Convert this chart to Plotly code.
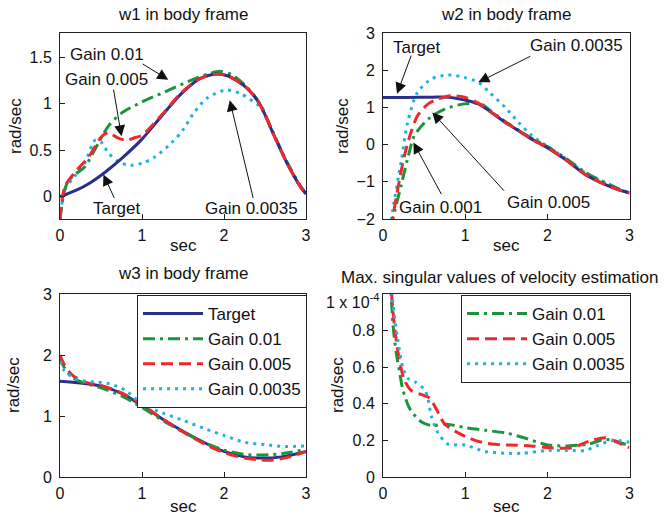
import plotly.graph_objects as go

# ---------------- data ----------------
# w1
t_w1_target = [0, 0.2, 0.35, 0.53, 0.75, 1.0, 1.24, 1.48, 1.7, 1.9, 2.05, 2.28, 2.44, 2.6, 2.77, 2.93, 3.0]
w1_target = [0, 0.07, 0.14, 0.25, 0.41, 0.62, 0.87, 1.11, 1.27, 1.32, 1.30, 1.17, 0.99, 0.68, 0.36, 0.11, 0.03]
t_w1_g01 = [0, 0.05, 0.1, 0.2, 0.3, 0.42, 0.59, 0.75, 1.0, 1.28, 1.56, 1.8, 1.95, 2.1, 2.28, 2.44, 2.6, 2.77, 2.93, 3.0]
w1_g01 = [-0.24, 0.05, 0.17, 0.25, 0.32, 0.5, 0.76, 0.9, 1.02, 1.13, 1.24, 1.32, 1.35, 1.31, 1.18, 1.0, 0.69, 0.37, 0.12, 0.03]
t_w1_g005 = [0, 0.06, 0.18, 0.35, 0.51, 0.59, 0.71, 0.81, 0.93, 1.0, 1.24, 1.48, 1.7, 1.9, 2.05, 2.28, 2.44, 2.6, 2.77, 2.93, 3.0]
w1_g005 = [-0.24, 0.11, 0.26, 0.43, 0.65, 0.69, 0.63, 0.61, 0.64, 0.66, 0.88, 1.12, 1.27, 1.32, 1.30, 1.17, 0.99, 0.68, 0.36, 0.11, 0.03]
t_w1_g0035 = [0, 0.06, 0.18, 0.3, 0.43, 0.5, 0.59, 0.71, 0.83, 1.0, 1.16, 1.36, 1.5, 1.63, 1.79, 2.03, 2.2, 2.35, 2.44, 2.6, 2.77, 2.93, 3.0]
w1_g0035 = [-0.26, 0.08, 0.22, 0.36, 0.61, 0.59, 0.47, 0.38, 0.34, 0.36, 0.43, 0.58, 0.72, 0.9, 1.06, 1.15, 1.11, 1.03, 0.97, 0.68, 0.36, 0.11, 0.03]

# w2
t_w2_target = [0, 0.3, 0.6, 0.8, 1.0, 1.16, 1.3, 1.49, 1.65, 1.81, 2.0, 2.22, 2.46, 2.7, 2.85, 3.0]
w2_target = [1.27, 1.27, 1.28, 1.28, 1.2, 1.1, 0.9, 0.6, 0.38, 0.15, -0.08, -0.4, -0.8, -1.07, -1.2, -1.3]
t_w2_g01 = [0.1, 0.12, 0.22, 0.32, 0.38, 0.55, 0.75, 0.99, 1.19, 1.3, 1.49, 1.65, 1.81, 2.0, 2.22, 2.46, 2.7, 2.85, 3.0]
w2_g01 = [-2.25, -2.0, -1.1, -0.2, 0.24, 0.69, 0.96, 1.1, 1.1, 0.93, 0.62, 0.39, 0.17, -0.05, -0.36, -0.74, -1.01, -1.17, -1.3]
t_w2_g005 = [0.1, 0.12, 0.18, 0.26, 0.34, 0.42, 0.55, 0.67, 0.83, 0.99, 1.16, 1.3, 1.49, 1.65, 1.81, 2.0, 2.22, 2.46, 2.7, 2.85, 3.0]
w2_g005 = [-2.25, -1.95, -1.19, -0.30, 0.33, 0.78, 1.10, 1.23, 1.32, 1.28, 1.12, 0.9, 0.6, 0.38, 0.15, -0.08, -0.4, -0.8, -1.07, -1.2, -1.3]
t_w2_g0035 = [0.09, 0.12, 0.22, 0.3, 0.42, 0.59, 0.79, 0.99, 1.16, 1.3, 1.49, 1.65, 1.81, 2.0, 2.22, 2.46, 2.7, 2.85, 3.0]
w2_g0035 = [-2.25, -1.73, -0.47, 0.6, 1.41, 1.77, 1.88, 1.81, 1.68, 1.4, 1.0, 0.6, 0.25, -0.04, -0.37, -0.76, -1.03, -1.18, -1.3]

# w3
t_w3_target = [0, 0.25, 0.5, 0.75, 1.0, 1.25, 1.5, 1.75, 2.0, 2.25, 2.45, 2.7, 3.0]
w3_target = [1.57, 1.54, 1.49, 1.37, 1.17, 0.95, 0.75, 0.57, 0.42, 0.33, 0.31, 0.33, 0.42]
t_w3_g01 = [0, 0.05, 0.15, 0.3, 0.5, 0.75, 1.0, 1.25, 1.5, 1.75, 2.0, 2.25, 2.45, 2.6, 2.8, 3.0]
w3_g01 = [1.95, 1.8, 1.63, 1.54, 1.46, 1.33, 1.14, 0.93, 0.74, 0.57, 0.44, 0.37, 0.36, 0.37, 0.4, 0.46]
t_w3_g005 = [0, 0.05, 0.15, 0.3, 0.5, 0.75, 1.0, 1.25, 1.5, 1.75, 2.0, 2.25, 2.45, 2.6, 2.8, 3.0]
w3_g005 = [2.0, 1.85, 1.67, 1.56, 1.5, 1.38, 1.19, 0.95, 0.74, 0.55, 0.4, 0.31, 0.28, 0.28, 0.33, 0.42]
t_w3_g0035 = [0, 0.05, 0.2, 0.4, 0.6, 0.8, 1.0, 1.25, 1.5, 1.75, 2.0, 2.25, 2.5, 2.75, 3.0]
w3_g0035 = [1.9, 1.75, 1.6, 1.56, 1.53, 1.42, 1.2, 1.05, 0.93, 0.8, 0.68, 0.57, 0.53, 0.5, 0.51]

# max singular values (x 1e-4)
t_sv_g01 = [0.09, 0.12, 0.16, 0.2, 0.24, 0.33, 0.47, 0.6, 0.75, 1.0, 1.25, 1.5, 1.75, 2.0, 2.25, 2.5, 2.7, 2.8, 3.0]
sv_g01 = [1.1, 0.84, 0.68, 0.58, 0.48, 0.37, 0.30, 0.28, 0.29, 0.27, 0.255, 0.24, 0.21, 0.175, 0.17, 0.18, 0.205, 0.2, 0.17]
t_sv_g005 = [0.09, 0.12, 0.16, 0.2, 0.26, 0.35, 0.47, 0.57, 0.65, 0.75, 0.92, 1.12, 1.32, 1.53, 1.8, 2.02, 2.3, 2.5, 2.71, 2.85, 3.0]
sv_g005 = [1.1, 0.91, 0.75, 0.64, 0.53, 0.47, 0.45, 0.43, 0.37, 0.29, 0.24, 0.20, 0.18, 0.175, 0.17, 0.16, 0.16, 0.195, 0.215, 0.19, 0.16]
t_sv_g0035 = [0.09, 0.12, 0.18, 0.24, 0.3, 0.39, 0.51, 0.55, 0.59, 0.67, 0.79, 1.0, 1.24, 1.48, 1.7, 2.0, 2.25, 2.46, 2.6, 2.8, 3.0]
sv_g0035 = [1.1, 0.95, 0.75, 0.6, 0.54, 0.52, 0.475, 0.42, 0.33, 0.24, 0.18, 0.175, 0.14, 0.13, 0.13, 0.145, 0.145, 0.145, 0.17, 0.2, 0.19]

series_names = ["Target", "Gain 0.01", "Gain 0.005", "Gain 0.0035"]
x_ticks = [0, 1, 2, 3]

# ---------------- style ----------------
FONT = "Liberation Sans, Arial, sans-serif"
C_T, C_G, C_R, C_C = "#2b2f8c", "#17963c", "#ec2a2c", "#1cb2e2"
LW = 3
styles = {
    "Target": dict(color=C_T, width=LW, dash="solid"),
    "Gain 0.01": dict(color=C_G, width=LW, dash="12px,5px,3px,5px"),
    "Gain 0.005": dict(color=C_R, width=LW, dash="12px,6px"),
    "Gain 0.0035": dict(color=C_C, width=LW, dash="3px,5px"),
}

fig = go.Figure()

def add(t, v, name, xa, ya, legend=None):
    fig.add_trace(go.Scatter(
        x=t, y=v, mode="lines", name=name, line=dict(shape="spline", smoothing=0.8, **styles[name]),
        xaxis=xa, yaxis=ya, showlegend=legend is not None, legend=legend or "legend",
        legendgroup=(legend or "") + name, hoverinfo="skip"))

# panel 1 (w1)
add(t_w1_g0035, w1_g0035, "Gain 0.0035", "x", "y")
add(t_w1_g01, w1_g01, "Gain 0.01", "x", "y")
add(t_w1_target, w1_target, "Target", "x", "y")
add(t_w1_g005, w1_g005, "Gain 0.005", "x", "y")
# panel 2 (w2)
add(t_w2_g0035, w2_g0035, "Gain 0.0035", "x2", "y2")
add(t_w2_g01, w2_g01, "Gain 0.01", "x2", "y2")
add(t_w2_target, w2_target, "Target", "x2", "y2")
add(t_w2_g005, w2_g005, "Gain 0.005", "x2", "y2")
# panel 3 (w3) - with legend
add(t_w3_target, w3_target, "Target", "x3", "y3", "legend")
add(t_w3_g01, w3_g01, "Gain 0.01", "x3", "y3", "legend")
add(t_w3_g005, w3_g005, "Gain 0.005", "x3", "y3", "legend")
add(t_w3_g0035, w3_g0035, "Gain 0.0035", "x3", "y3", "legend")
# panel 4 (singular values)
add(t_sv_g01, sv_g01, "Gain 0.01", "x4", "y4", "legend2")
add(t_sv_g005, sv_g005, "Gain 0.005", "x4", "y4", "legend2")
add(t_sv_g0035, sv_g0035, "Gain 0.0035", "x4", "y4", "legend2")

W, H = 664, 517
def px(x):
    return x / W
def py(y):
    return 1 - y / H

XL = [px(60), px(306)]
XR = [px(383), px(629.5)]
YT = [py(219), py(33.3)]
YB = [py(477), py(294)]

TICK = 16
LAB = 17
axis_common = dict(showline=True, mirror=True, linecolor="#222", linewidth=1,
                   ticks="inside", ticklen=5, tickcolor="#222", showgrid=False, zeroline=False,
                   tickfont=dict(family=FONT, size=TICK, color="#111"))

legend_common = dict(xanchor="left", yanchor="top", bgcolor="white",
                     bordercolor="#222", borderwidth=1, font=dict(family=FONT, size=LAB, color="#111"),
                     itemwidth=60, tracegroupgap=0, traceorder="grouped")

fig.update_layout(
    width=W, height=H, margin=dict(l=0, r=0, t=0, b=0, autoexpand=False),
    paper_bgcolor="white", plot_bgcolor="white",
    font=dict(family=FONT, size=15, color="#111"),
    xaxis=dict(domain=XL, anchor="y", range=[0, 3], tickvals=x_ticks, ticklabelstandoff=2, **axis_common),
    yaxis=dict(domain=YT, anchor="x", range=[-0.24, 1.76], tickvals=[0, 0.5, 1, 1.5], ticklabelstandoff=4, **axis_common),
    xaxis2=dict(domain=XR, anchor="y2", range=[0, 3], tickvals=x_ticks, ticklabelstandoff=2, **axis_common),
    yaxis2=dict(domain=YT, anchor="x2", range=[-2, 3], tickvals=[-2, -1, 0, 1, 2, 3], ticklabelstandoff=4, **axis_common),
    xaxis3=dict(domain=XL, anchor="y3", range=[0, 3], tickvals=x_ticks, ticklabelstandoff=2, **axis_common),
    yaxis3=dict(domain=YB, anchor="x3", range=[0, 3], tickvals=[0, 1, 2, 3], ticklabelstandoff=4, **axis_common),
    xaxis4=dict(domain=XR, anchor="y4", range=[0, 3], tickvals=x_ticks, ticklabelstandoff=2, **axis_common),
    yaxis4=dict(domain=YB, anchor="x4", range=[0, 1], tickvals=[0, 0.2, 0.4, 0.6, 0.8],
                ticktext=["0", "0.2", "0.4", "0.6", "0.8"], ticklabelstandoff=4, **axis_common),
    legend=dict(x=px(137), y=py(295), **legend_common),
    legend2=dict(x=px(461), y=py(295), **legend_common),
)

ann = []
def text(x, y, s, size=LAB, **kw):
    d = dict(x=px(x), y=py(y), xref="paper", yref="paper", text=s, showarrow=False,
             xanchor="center", yanchor="middle",
             font=dict(family=FONT, size=size, color="#111"))
    d.update(kw)
    ann.append(d)

# titles
text(183, 15, "w1 in body frame")
text(506, 15, "w2 in body frame")
text(183, 273, "w3 in body frame")
text(499, 277, "Max. singular values of velocity estimation")
# x labels
for cx in (183, 506):
    text(cx, 245, "sec")
    text(cx, 506, "sec")
# y labels
for cx, cy in ((15, 126), (342, 126), (13, 385), (337, 385)):
    text(cx, cy, "rad/sec", textangle=-90)
# exponent label
text(382, 301, "1 x 10<sup>-4</sup>", TICK, xanchor="right")

def arrow(xr, yr, tip, tail):
    ann.append(dict(xref=xr, yref=yr, axref=xr, ayref=yr, x=tip[0], y=tip[1], ax=tail[0], ay=tail[1],
                    text="", showarrow=True, arrowhead=2, arrowsize=2.2, arrowwidth=1, arrowcolor="#111"))

def dtext(xr, yr, x, y, s):
    ann.append(dict(xref=xr, yref=yr, x=x, y=y, text=s, showarrow=False,
                    xanchor="center", yanchor="middle",
                    font=dict(family=FONT, size=LAB, color="#111")))

# panel 1 callouts
dtext("x", "y", 0.57, 1.53, "Gain 0.01")
arrow("x", "y", (1.32, 1.26), (0.99, 1.44))
dtext("x", "y", 0.57, 1.26, "Gain 0.005")
arrow("x", "y", (0.75, 0.65), (0.65, 1.17))
dtext("x", "y", 0.69, -0.13, "Target")
arrow("x", "y", (0.53, 0.24), (0.67, -0.03))
dtext("x", "y", 2.34, -0.13, "Gain 0.0035")
arrow("x", "y", (2.07, 1.04), (2.36, -0.03))
# panel 2 callouts
dtext("x2", "y2", 0.41, 2.62, "Target")
arrow("x2", "y2", (0.17, 1.37), (0.35, 2.44))
dtext("x2", "y2", 2.36, 2.67, "Gain 0.0035")
arrow("x2", "y2", (1.16, 1.68), (1.81, 2.40))
dtext("x2", "y2", 0.70, -1.69, "Gain 0.001")
arrow("x2", "y2", (0.37, 0.06), (0.72, -1.37))
dtext("x2", "y2", 2.02, -1.55, "Gain 0.005")
arrow("x2", "y2", (0.60, 0.87), (1.49, -1.28))

fig.update_layout(annotations=ann)
fig.write_html("out.html", config={"responsive": False, "displayModeBar": False},
               post_script="document.body.style.margin='0';document.body.style.overflow='hidden';")
